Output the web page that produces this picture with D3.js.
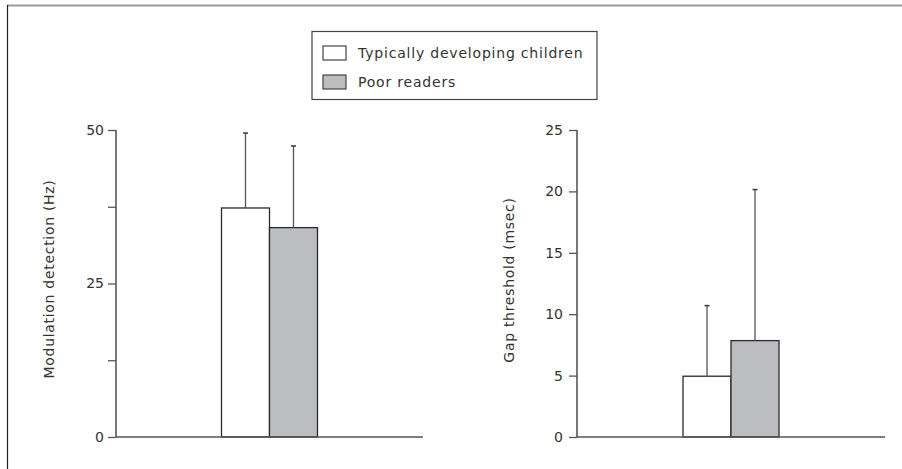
<!DOCTYPE html>
<html>
<head>
<meta charset="utf-8">
<script src="https://cdn.jsdelivr.net/npm/d3@7"></script>
<style>
  body { margin: 0; background: #fff; }
  text { font-family: "DejaVu Sans", sans-serif; fill: #333; }
</style>
</head>
<body>
<div id="chart-area"></div>
<script>
// data
const groups = ["Typically developing children", "Poor readers"]
const groupFill = ["#ffffff", "#bcbdc1"]

const modMean = [37.3, 34.1]
const modErr = [12.2, 13.3]
const modTicks = [0, 12.5, 25, 37.5, 50]
const modLabels = [0, 25, 50]

const gapMean = [4.95, 7.85]
const gapErr = [5.75, 12.3]
const gapTicks = [0, 5, 10, 15, 20, 25]

const W = 902, H = 469
const BAR_W = 48

const svg = d3.select("#chart-area").append("svg")
  .attr("width", W)
  .attr("height", H)

// outer frame (top + left only)
svg.append("line")
  .attr("x1", 7).attr("x2", W).attr("y1", 5.5).attr("y2", 5.5)
  .attr("stroke", "#9a9a9a").attr("stroke-width", 2)
svg.append("line")
  .attr("x1", 7.5).attr("x2", 7.5).attr("y1", 5).attr("y2", H)
  .attr("stroke", "#222").attr("stroke-width", 1.2)

// legend
const legend = svg.append("g")
legend.append("rect")
  .attr("x", 312).attr("y", 31.5).attr("width", 285).attr("height", 68)
  .attr("fill", "#fff").attr("stroke", "#444").attr("stroke-width", 1.2)
groups.forEach((grp, i) => {
  const ly = 46 + i * 29
  legend.append("rect")
    .attr("x", 323).attr("y", ly).attr("width", 23).attr("height", 14)
    .attr("fill", groupFill[i]).attr("stroke", "#444").attr("stroke-width", 1.2)
  legend.append("text")
    .attr("x", 358).attr("y", ly + 12)
    .attr("font-size", "14px")
    .attr("letter-spacing", "0.8px")
    .text(grp)
})

function panel(opts) {
  const y = d3.scaleLinear().domain(opts.domain).range([437, 130])
  const mid = (opts.x0 + opts.x1) / 2
  const x = d3.scaleBand().domain(groups).range([mid - BAR_W, mid + BAR_W])

  const g = svg.append("g")

  const yAxisCall = d3.axisLeft(y)
    .tickValues(opts.ticks)
    .tickSize(8)
    .tickPadding(opts.pad)
    .tickFormat(d => opts.labels.includes(d) ? d : "")
  const yAxis = g.append("g")
    .attr("transform", `translate(${opts.x0}, 0)`)
    .call(yAxisCall)
  yAxis.select(".domain").remove()
  yAxis.selectAll("line").attr("stroke", "#555").attr("stroke-width", 1.3)
  yAxis.selectAll("text")
    .attr("font-size", "14px")
    .attr("font-family", "DejaVu Sans, sans-serif")
    .attr("fill", "#333")

  g.append("line")
    .attr("x1", opts.x0).attr("x2", opts.x0)
    .attr("y1", y(opts.domain[1])).attr("y2", y(0))
    .attr("stroke", "#555").attr("stroke-width", 1.6)

  // bars
  g.selectAll(".bar").data(groups).enter().append("rect")
    .attr("class", "bar")
    .attr("x", d => x(d))
    .attr("width", x.bandwidth())
    .attr("y", (d, i) => y(opts.mean[i]))
    .attr("height", (d, i) => y(0) - y(opts.mean[i]))
    .attr("fill", (d, i) => groupFill[i])
    .attr("stroke", "#2a2a2a")
    .attr("stroke-width", 1.3)

  // error bars (upper only)
  g.selectAll(".err").data(groups).enter().append("line")
    .attr("x1", d => x(d) + x.bandwidth() / 2)
    .attr("x2", d => x(d) + x.bandwidth() / 2)
    .attr("y1", (d, i) => y(opts.mean[i]))
    .attr("y2", (d, i) => y(opts.mean[i] + opts.err[i]))
    .attr("stroke", "#555").attr("stroke-width", 1.3)
  g.selectAll(".cap").data(groups).enter().append("line")
    .attr("x1", d => x(d) + x.bandwidth() / 2 - 2.5)
    .attr("x2", d => x(d) + x.bandwidth() / 2 + 2.5)
    .attr("y1", (d, i) => y(opts.mean[i] + opts.err[i]))
    .attr("y2", (d, i) => y(opts.mean[i] + opts.err[i]))
    .attr("stroke", "#444").attr("stroke-width", 1.6)

  // baseline
  g.append("line")
    .attr("x1", opts.x0).attr("x2", opts.x1)
    .attr("y1", y(0)).attr("y2", y(0))
    .attr("stroke", "#555").attr("stroke-width", 1.6)

  // y label
  g.append("text")
    .attr("transform", `translate(${opts.labelX}, ${opts.labelY}) rotate(-90)`)
    .attr("text-anchor", "middle")
    .attr("font-size", "14px")
    .attr("letter-spacing", "0.7px")
    .text(opts.title)
}

panel({
  domain: [0, 50], ticks: modTicks, labels: modLabels,
  mean: modMean, err: modErr, x0: 116, x1: 423, pad: 4,
  title: "Modulation detection (Hz)", labelX: 54, labelY: 279
})

panel({
  domain: [0, 25], ticks: gapTicks, labels: gapTicks,
  mean: gapMean, err: gapErr, x0: 577, x1: 885, pad: 6,
  title: "Gap threshold (msec)", labelX: 514, labelY: 280
})
</script>
</body>
</html>
